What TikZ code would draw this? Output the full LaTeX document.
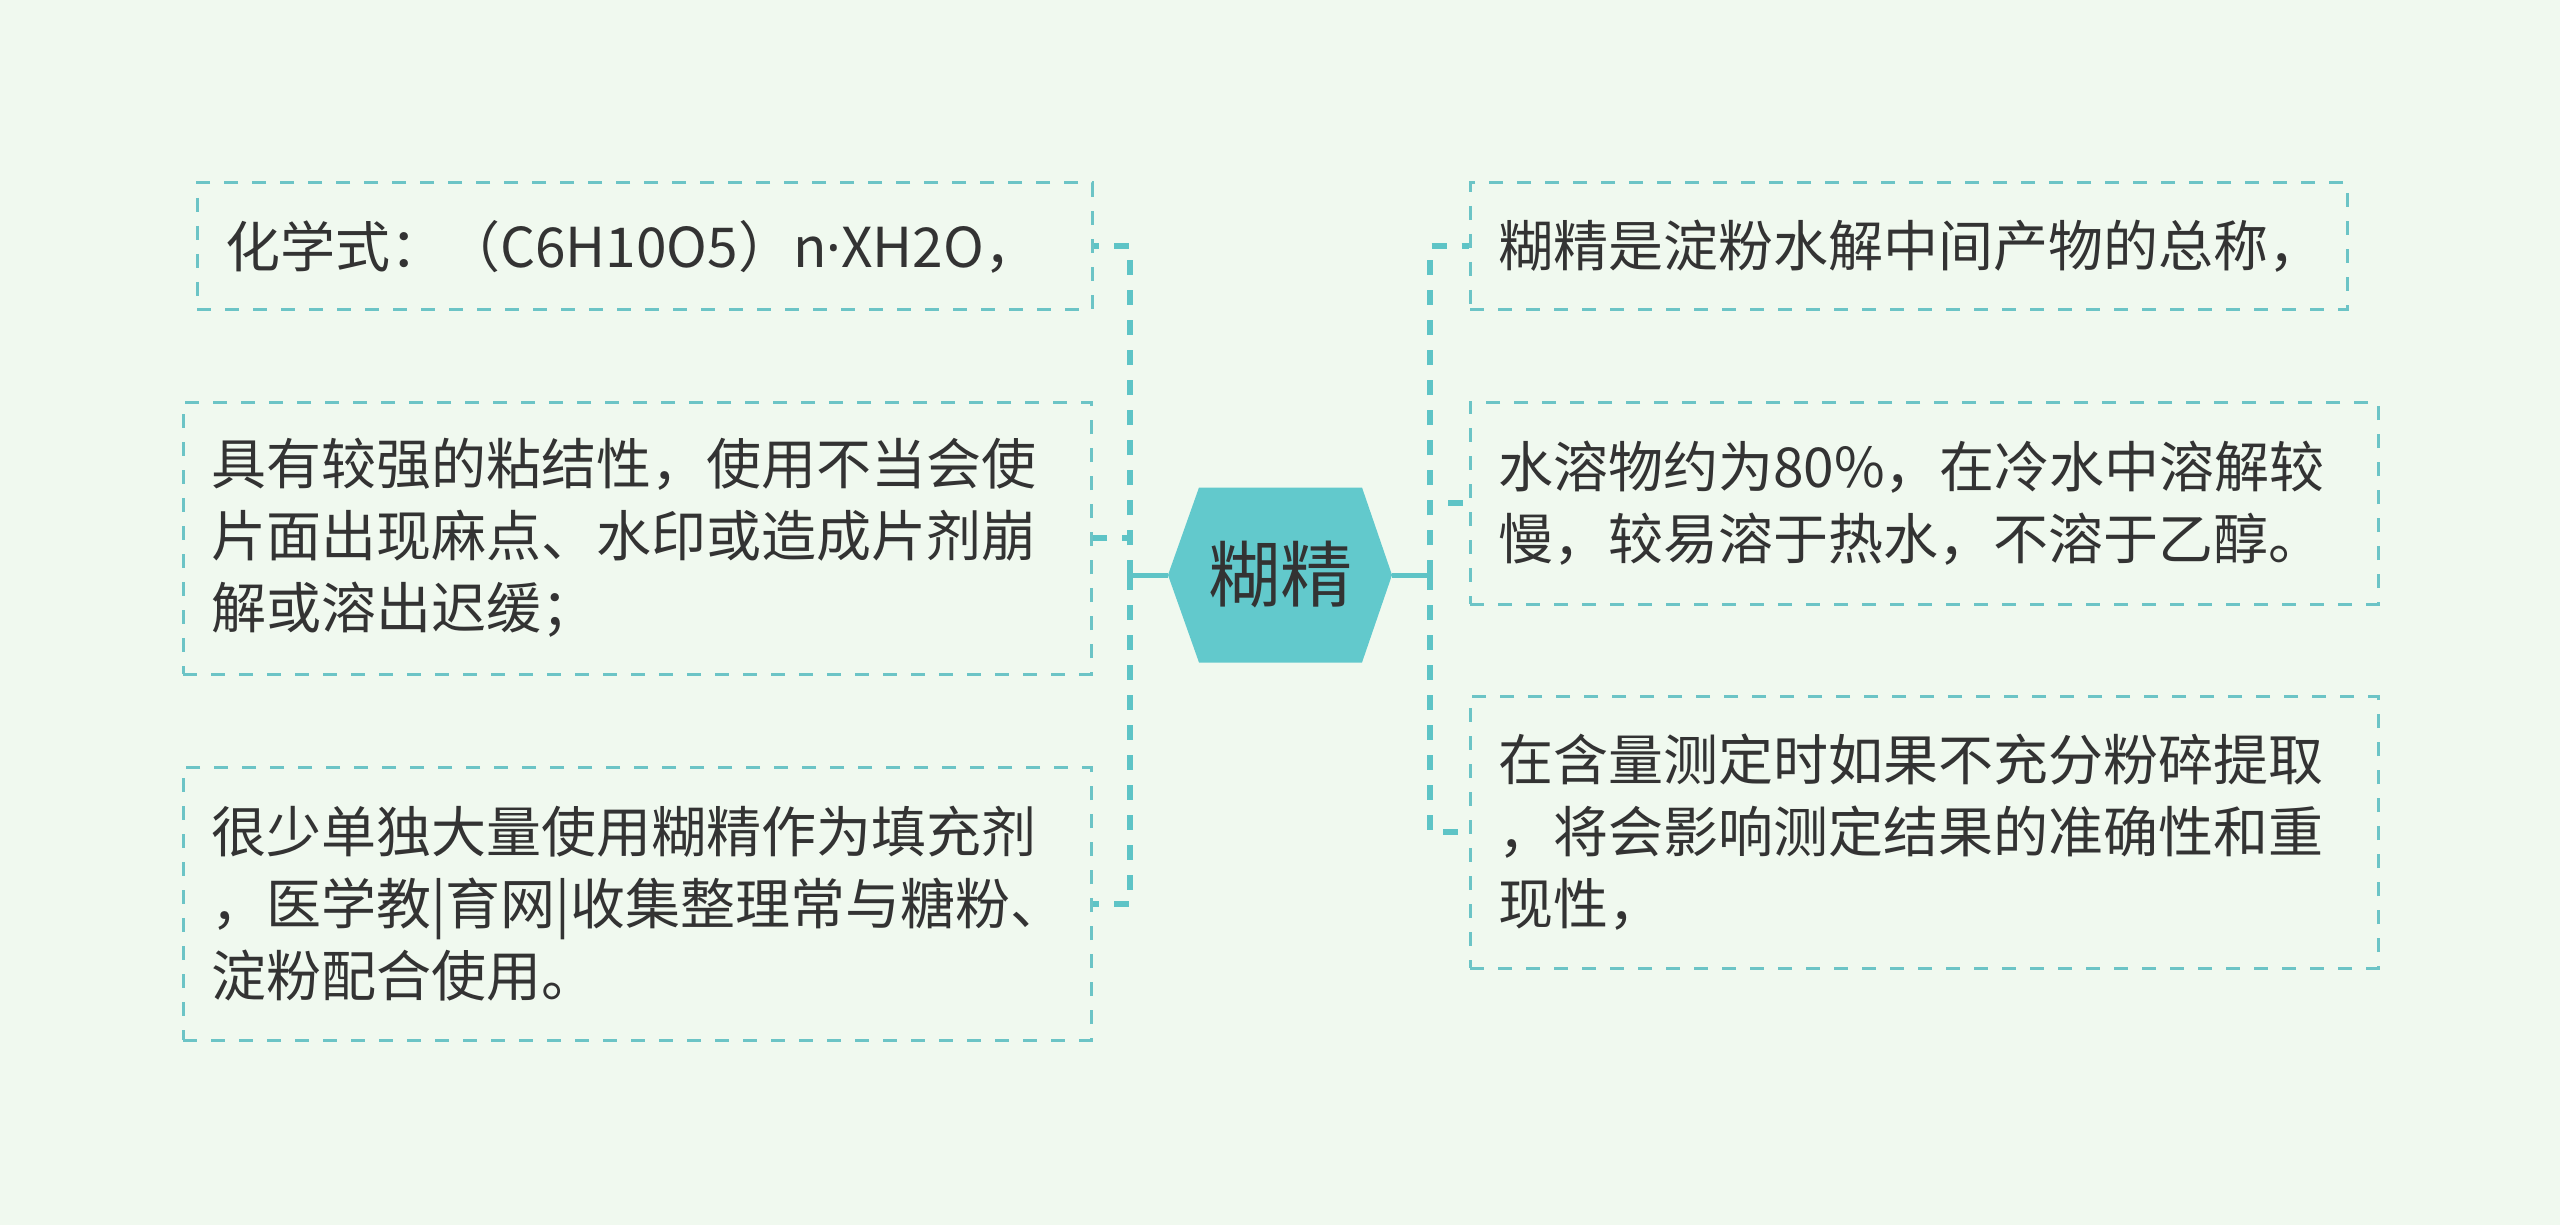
\documentclass[tikz,border=0pt]{standalone}
\usepackage{fontspec}
\setmainfont{Noto Sans CJK SC}
\newfontfamily\latinfont{Noto Sans}
\usetikzlibrary{calc}
\definecolor{bgmint}{HTML}{F0F9EF}
\definecolor{hexfill}{HTML}{62C9CC}
\definecolor{linecol}{HTML}{5EC4C6}
\definecolor{boxline}{HTML}{6CC4C6}
\definecolor{ink}{HTML}{333333}

\begin{document}
\begin{tikzpicture}[x=0.5pt,y=-0.5pt,box/.style={draw=boxline, line width=1.5pt, dash pattern=on 7pt off 7pt, align=left, inner xsep=14pt, inner ysep=0pt, text=ink, font=\fontsize{27.5}{36}\selectfont},root/.style={minimum width=112pt, minimum height=87.5pt, inner sep=0pt, text=ink, font=\fontsize{36}{40}\selectfont},stem/.style={draw=linecol, line width=2.5pt},branch/.style={draw=linecol, line width=3pt, dash pattern=on 7.5pt off 7.5pt}]
\fill[bgmint] (0,0) rectangle (2560,1225);
\coordinate (c) at (1280,575);
\fill[hexfill] ($(c)+(-112,0)$) -- ($(c)+(-81,-87.5)$) -- ($(c)+(82,-87.5)$) -- ($(c)+(112,0)$) -- ($(c)+(82,87.5)$) -- ($(c)+(-81,87.5)$) -- cycle;
\node[root] (root) at (c) {糊精};
\node[box, text width=419.5pt, minimum height=63.5pt] (l1) at (644.5,246.5) {化学式：（C6H10O5）n{\latinfont ·}XH2O，};
\node[box, text width=426pt, minimum height=136pt] (l2) at (637,538) {具有较强的粘结性，使用不当会使\\片面出现麻点、水印或造成片剂崩\\解或溶出迟缓；};
\node[box, text width=426pt, minimum height=136.5pt] (l3) at (637,903.5) {很少单独大量使用糊精作为填充剂\\，医学教|育网|收集整理常与糖粉、\\淀粉配合使用。};
\node[box, text width=410.5pt, minimum height=63.5pt] (r1) at (1908.5,246.5) {糊精是淀粉水解中间产物的总称，};
\node[box, text width=426pt, minimum height=101pt] (r2) at (1924,503) {水溶物约为80\%，在冷水中溶解较\\慢，较易溶于热水，不溶于乙醇。};
\node[box, text width=426pt, minimum height=136pt] (r3) at (1924,832) {在含量测定时如果不充分粉碎提取\\，将会影响测定结果的准确性和重\\现性，};
\coordinate (lt) at (1130,575); \coordinate (rt) at (1430,575);
\draw[stem] (root.west) -- (lt); \draw[stem] (root.east) -- (rt);
\draw[branch] (lt) |- (l1.east); \draw[branch] (lt) |- (l2.east); \draw[branch] (lt) |- (l3.east);
\draw[branch] (rt) |- (r1.west); \draw[branch] (rt) |- (r2.west); \draw[branch] (rt) |- (r3.west);
\end{tikzpicture}
\end{document}
